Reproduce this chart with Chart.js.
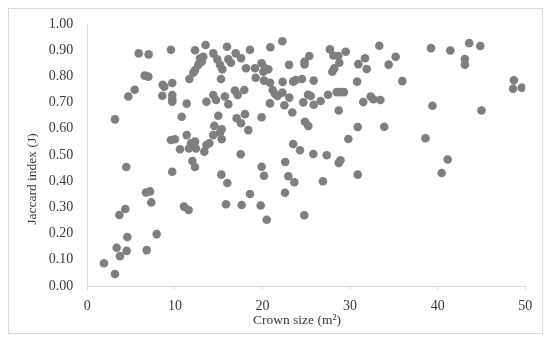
<!DOCTYPE html>
<html>
<head>
<meta charset="utf-8">
<script src="https://cdn.jsdelivr.net/npm/chart.js@4/dist/chart.umd.min.js"></script>
<style>
html,body{margin:0;padding:0;background:#fff;}
#wrap{width:550px;height:341px;position:relative;}
</style>
</head>
<body>
<div id="wrap"><canvas id="c" width="550" height="341"></canvas></div>
<script>
const xTitle = 'Crown size (m²)';
const yTitle = 'Jaccard index (J)';
const xTickValues = [0, 10, 20, 30, 40, 50];
const yTickValues = [0, 0.1, 0.2, 0.3, 0.4, 0.5, 0.6, 0.7, 0.8, 0.9, 1.0];

const crownSize = [
  1.9, 3.16, 3.35, 3.73, 4.49, 4.57, 6.78, 7.92, 3.66, 4.34, 4.45, 6.70, 7.16, 7.31, 9.70, 11.04, 11.57, 11.99, 12.29,
  15.30, 15.98, 15.83, 17.51, 17.62, 18.57, 19.79, 19.9, 20.17, 20.48, 22.6, 22.95, 23.63, 22.57, 24.77,
  24.28, 25.8, 27.33, 28.7, 28.9, 26.9, 30.87, 41.14, 40.45,
  25.34, 24.8, 24.8, 27.7, 28.1, 28.65, 28.77, 28.2, 27.97, 29.5, 33.33, 31.7, 30.94, 31.9, 35.2, 34.4, 35.96, 30.8,
  24.5, 25.84, 39.23, 41.44, 43.6, 44.86, 43.1, 43.1, 48.7, 48.6, 49.6, 39.4, 45.0, 38.6, 33.9, 30.87, 29.8, 28.7,
  28.47, 28.93, 29.3, 27.48, 26.64, 25.84, 25.2, 25.5, 24.66, 31.5, 32.35, 32.65, 33.45, 24.85, 25.23,
  3.16, 4.68, 5.41, 5.87, 7.0, 6.55, 6.97, 9.55, 8.6, 8.79, 9.70, 8.56, 9.7, 9.7, 9.7, 11.35, 10.77, 11.65, 12.3, 13.5,
  12.87, 13.24, 13.06, 12.67, 12.3, 12.1, 14.38, 14.84, 15.15, 15.41, 15.26, 15.95, 16.1, 16.4, 16.94, 17.55, 18.57,
  18.12, 19.14, 19.9, 20.29, 20.66, 20.1, 20.9, 22.26, 23.03, 19.22, 20.17, 20.86, 22.3, 23.5, 23.8,
  21.16, 21.43, 21.7, 22.26, 23.06, 22.5, 20.86, 23.4, 23.5, 19.9, 18.0, 17.05, 17.55, 18.38, 14.95, 14.5, 15.34,
  15.15, 14.38, 15.34, 13.93, 13.6, 13.36, 11.35, 9.55, 10.0, 10.58, 11.84, 12.1, 12.3, 11.6, 12.4,
  13.6, 14.38, 14.7, 15.7, 16.1, 16.86, 17.17, 17.92
];
const jaccardIndex = [
  0.087, 0.046, 0.146, 0.114, 0.134, 0.187, 0.137, 0.198, 0.271, 0.294, 0.454, 0.357, 0.361, 0.319, 0.436, 0.303, 0.290, 0.477, 0.454,
  0.425, 0.393, 0.312, 0.503, 0.309, 0.351, 0.307, 0.455, 0.421, 0.253, 0.473, 0.419, 0.396, 0.356, 0.270,
  0.518, 0.504, 0.499, 0.47, 0.48, 0.40, 0.425, 0.483, 0.431,
  0.878, 0.856, 0.846, 0.903, 0.88, 0.878, 0.852, 0.831, 0.818, 0.894, 0.917, 0.869, 0.847, 0.828, 0.875, 0.845, 0.782, 0.780,
  0.790, 0.784, 0.908, 0.899, 0.927, 0.916, 0.866, 0.845, 0.785, 0.753, 0.757, 0.688, 0.670, 0.564, 0.608, 0.607, 0.561, 0.670,
  0.740, 0.740, 0.740, 0.730, 0.706, 0.692, 0.73, 0.725, 0.701, 0.702, 0.723, 0.713, 0.710, 0.627, 0.611,
  0.636, 0.723, 0.749, 0.888, 0.884, 0.803, 0.799, 0.902, 0.768, 0.761, 0.775, 0.726, 0.729, 0.714, 0.703, 0.696, 0.646, 0.790, 0.900, 0.920,
  0.869, 0.875, 0.856, 0.844, 0.824, 0.814, 0.888, 0.865, 0.844, 0.827, 0.790, 0.913, 0.865, 0.852, 0.888, 0.869, 0.902,
  0.831, 0.831, 0.850, 0.831, 0.827, 0.818, 0.911, 0.934, 0.844, 0.795, 0.784, 0.776, 0.779, 0.780, 0.786,
  0.748, 0.733, 0.725, 0.738, 0.719, 0.690, 0.697, 0.662, 0.542, 0.644, 0.656, 0.640, 0.621, 0.595, 0.650, 0.611, 0.598,
  0.585, 0.576, 0.560, 0.545, 0.538, 0.513, 0.576, 0.557, 0.560, 0.522, 0.545, 0.534, 0.551, 0.525, 0.525,
  0.703, 0.729, 0.710, 0.723, 0.694, 0.746, 0.729, 0.748
];

const points = crownSize.map((x, i) => ({x: x, y: jaccardIndex[i]}));

const serif = '"Liberation Serif", "DejaVu Serif", serif';
const textColor = '#3a3a3a';
const axisColor = '#d9d9d9';

const decor = {
  id: 'decor',
  beforeDraw(chart) {
    const ctx = chart.ctx;
    ctx.save();
    ctx.fillStyle = '#ffffff';
    ctx.fillRect(0, 0, chart.width, chart.height);
    ctx.strokeStyle = axisColor;
    ctx.lineWidth = 1;
    ctx.strokeRect(8.5, 8.5, 534, 325);
    ctx.restore();
  },
  afterDraw(chart) {
    const ctx = chart.ctx;
    ctx.save();
    ctx.fillStyle = textColor;
    ctx.font = '13.5px ' + serif;
    ctx.textAlign = 'center';
    ctx.textBaseline = 'middle';
    ctx.fillText(xTitle, 297, 320);
    ctx.translate(32, 179);
    ctx.rotate(-Math.PI / 2);
    ctx.fillText(yTitle, 0, 0);
    ctx.restore();
  }
};

new Chart(document.getElementById('c'), {
  type: 'scatter',
  data: {
    datasets: [{
      data: points,
      backgroundColor: '#7f7f7f',
      borderWidth: 0,
      pointRadius: 4.3,
      pointHoverRadius: 4.3
    }]
  },
  options: {
    responsive: false,
    animation: false,
    devicePixelRatio: 1,
    layout: {padding: {left: 0, right: 24.7, top: 24, bottom: 0}},
    plugins: {legend: {display: false}, tooltip: {enabled: false}},
    scales: {
      x: {
        type: 'linear',
        min: 0, max: 50,
        afterFit(s) { s.height = 55; },
        afterBuildTicks(s) { s.ticks = xTickValues.map(v => ({value: v})); },
        border: {color: axisColor, width: 1},
        grid: {drawOnChartArea: false, drawTicks: true, tickLength: 4, color: axisColor},
        ticks: {color: textColor, font: {family: serif, size: 14}, padding: 8, maxRotation: 0,
          callback: v => String(v)}
      },
      y: {
        type: 'linear',
        min: 0, max: 1,
        afterFit(s) { s.width = 87.3; },
        afterBuildTicks(s) { s.ticks = yTickValues.map(v => ({value: v})); },
        border: {color: axisColor, width: 1},
        grid: {display: false, drawTicks: false},
        ticks: {color: textColor, font: {family: serif, size: 14}, padding: 14,
          callback: v => Number(v).toFixed(2)}
      }
    }
  },
  plugins: [decor]
});
</script>
</body>
</html>
